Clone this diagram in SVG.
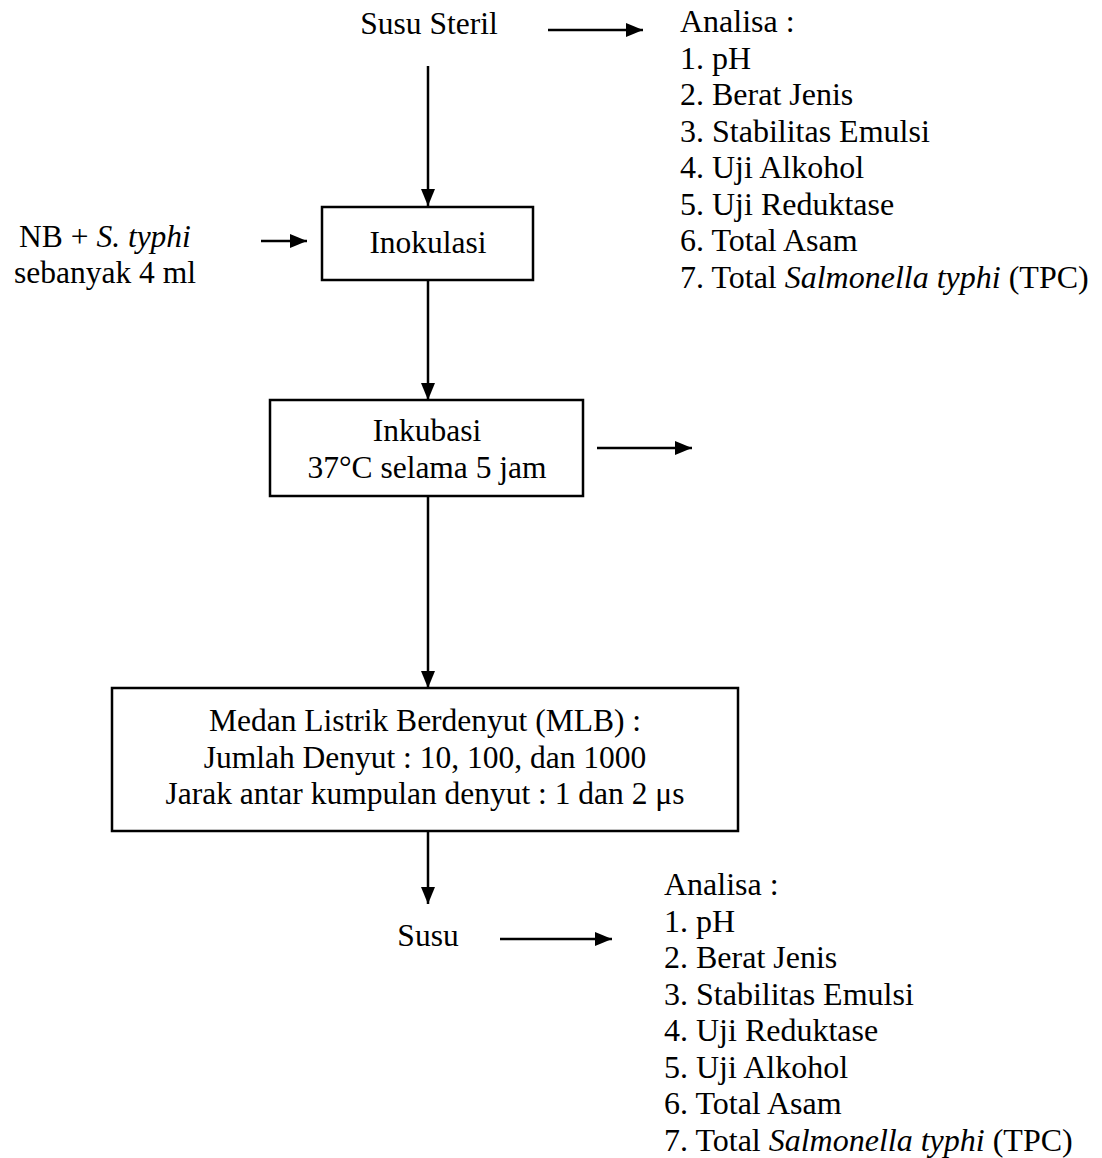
<svg xmlns="http://www.w3.org/2000/svg" width="1102" height="1158" viewBox="0 0 1102 1158">
<style>
text{font-family:"Liberation Serif","Times New Roman",serif;font-size:31.5px;fill:#000}
.l{font-size:32px}
.c{text-anchor:middle}
.box{fill:#fff;stroke:#000;stroke-width:2.5}
.ln{stroke:#000;stroke-width:2.5;fill:none}
</style>
<defs>
<marker id="ah" markerUnits="userSpaceOnUse" viewBox="0 0 17 14" refX="17" refY="7" markerWidth="17" markerHeight="14" orient="auto">
<path d="M0,0 L17,7 L0,14 z" fill="#000"/>
</marker>
</defs>
<rect width="1102" height="1158" fill="#fff"/>
<g id="connectors">
<line class="ln" x1="548" y1="30" x2="643" y2="30" marker-end="url(#ah)"/>
<line class="ln" x1="428" y1="66" x2="428" y2="206" marker-end="url(#ah)"/>
<line class="ln" x1="261" y1="241" x2="307" y2="241" marker-end="url(#ah)"/>
<line class="ln" x1="428" y1="280" x2="428" y2="400" marker-end="url(#ah)"/>
<line class="ln" x1="597" y1="448" x2="692" y2="448" marker-end="url(#ah)"/>
<line class="ln" x1="428" y1="496" x2="428" y2="688" marker-end="url(#ah)"/>
<line class="ln" x1="428" y1="831" x2="428" y2="904" marker-end="url(#ah)"/>
<line class="ln" x1="500" y1="939" x2="612" y2="939" marker-end="url(#ah)"/>
</g>
<g id="susu-steril"><text class="c" x="429" y="34">Susu Steril</text></g>
<g id="analisa-top" class="l">
<text class="l" x="680" y="32">Analisa :</text>
<text class="l" x="680" y="68.5">1. pH</text>
<text class="l" x="680" y="105">2. Berat Jenis</text>
<text class="l" x="680" y="141.5">3. Stabilitas Emulsi</text>
<text class="l" x="680" y="178">4. Uji Alkohol</text>
<text class="l" x="680" y="214.5">5. Uji Reduktase</text>
<text class="l" x="680" y="251">6. Total Asam</text>
<text class="l" x="680" y="287.5">7. Total <tspan font-style="italic">Salmonella typhi</tspan> (TPC)</text>
</g>
<g id="nb-typhi">
<text class="c" x="105" y="247">NB + <tspan font-style="italic">S. typhi</tspan></text>
<text class="c" x="105" y="283">sebanyak 4 ml</text>
</g>
<g id="inokulasi">
<rect class="box" x="322" y="207" width="211" height="73"/>
<text class="c" x="428" y="253">Inokulasi</text>
</g>
<g id="inkubasi">
<rect class="box" x="270" y="400" width="313" height="96"/>
<text class="c" x="427" y="441">Inkubasi</text>
<text class="c" x="427" y="478">37°C selama 5 jam</text>
</g>
<g id="mlb">
<rect class="box" x="112" y="688" width="626" height="143"/>
<text class="c" x="425" y="731">Medan Listrik Berdenyut (MLB) :</text>
<text class="c" x="425" y="768">Jumlah Denyut : 10, 100, dan 1000</text>
<text class="c" x="425" y="804">Jarak antar kumpulan denyut : 1 dan 2 μs</text>
</g>
<g id="susu"><text class="c" x="428" y="946">Susu</text></g>
<g id="analisa-bottom">
<text class="l" x="664" y="895">Analisa :</text>
<text class="l" x="664" y="931.5">1. pH</text>
<text class="l" x="664" y="968">2. Berat Jenis</text>
<text class="l" x="664" y="1004.5">3. Stabilitas Emulsi</text>
<text class="l" x="664" y="1041">4. Uji Reduktase</text>
<text class="l" x="664" y="1077.5">5. Uji Alkohol</text>
<text class="l" x="664" y="1114">6. Total Asam</text>
<text class="l" x="664" y="1150.5">7. Total <tspan font-style="italic">Salmonella typhi</tspan> (TPC)</text>
</g>
</svg>
